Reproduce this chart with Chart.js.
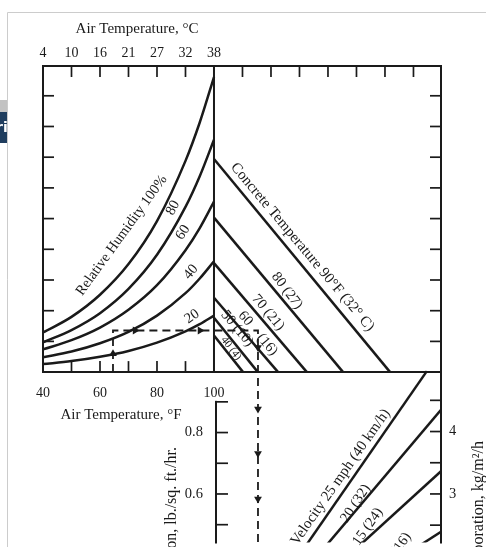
<!DOCTYPE html>
<html>
<head>
<meta charset="utf-8">
<script src="https://cdn.jsdelivr.net/npm/chart.js@4.4.1/dist/chart.umd.min.js"></script>
<style>
  html, body { margin: 0; padding: 0; background: #fff; overflow: hidden; }
  canvas { display: block; }
</style>
</head>
<body>
<canvas id="nomograph" width="486" height="547"></canvas>
<script>
// ---- data read off the nomograph ----
// upper-left panel: relative humidity curves vs air temperature (deg F), y in grid units
const airTempF = [40, 50, 60, 70, 80, 90, 95, 100];
const rhLabels = ['100', '80', '60', '40', '20'];
const rh100 = [1.29, 1.80, 2.52, 3.52, 4.92, 6.88, 8.13, 9.61];
const rh80  = [0.97, 1.37, 1.92, 2.71, 3.82, 5.38, 6.38, 7.57];
const rh60  = [0.74, 1.04, 1.45, 2.03, 2.83, 3.97, 4.69, 5.55];
const rh40  = [0.48, 0.67, 0.94, 1.31, 1.84, 2.57, 3.05, 3.61];
const rh20  = [0.26, 0.36, 0.50, 0.69, 0.96, 1.33, 1.56, 1.84];

// upper-right panel: concrete temperature lines (start on the 100F line, end on the base line)
const concreteF = ['90', '80', '70', '60', '50', '40'];
const concreteC = ['32', '27', '21', '16', '10', '4'];
const concreteStartY = [6.94, 5.03, 3.55, 2.42, 1.77, 1.19];
const concreteEndX = [161.8, 145.3, 132.6, 122.5, 115.4, 110.2];

// lower panel: wind velocity lines, rate of evaporation lb/sq ft/hr
const windMph = ['25', '20', '15', '10'];
const windKmh = ['40', '32', '24', '16'];
const windEndX = [174.7, 179.66, 179.66, 179.66];
const windEndRate = [1.0, 0.874, 0.674, 0.477];

// worked example (dashed path)
const exampleX = [64.56, 64.56, 115.44, 115.44];
const exampleY = [0, 1.355, 1.355, -6];

// tick labels
const celsiusLabels = ['4', '10', '16', '21', '27', '32', '38'];
const celsiusAtF = [40, 50, 60, 70, 80, 90, 100];
const fahrLabels = ['40', '60', '80', '100'];
const fahrAt = [40, 60, 80, 100];
const topTicksF = [50, 60, 70, 80, 90, 110, 120, 130, 140, 150, 160, 170];
const baseTicksF = [50, 60, 70, 80, 90];
const sideTicks = [1, 2, 3, 4, 5, 6, 7, 8, 9];
const lbTicks = [0.5, 0.6, 0.7, 0.8, 0.9];
const lbLabelled = [0.6, 0.8];
const kgTicks = [2.5, 3, 3.5, 4, 4.5];
const kgLabelled = [3, 4];

const ink = '#1a1a1a';
const serif = '"Liberation Serif", "DejaVu Serif", serif';

function seg(ctx, x1, y1, x2, y2) {
  ctx.beginPath();
  ctx.moveTo(x1, y1);
  ctx.lineTo(x2, y2);
  ctx.stroke();
}

function text(ctx, str, x, y, deg, size, align) {
  ctx.save();
  ctx.translate(x, y);
  ctx.rotate(deg * Math.PI / 180);
  ctx.font = size + 'px ' + serif;
  ctx.textAlign = align || 'center';
  ctx.textBaseline = 'middle';
  ctx.fillText(str, 0, 0);
  ctx.restore();
}

// label placements: [text, x (F scale), value, axis, angle, size]
const placements = [
  ['Relative Humidity ' + rhLabels[0] + '%', 67.6, 4.45, 'y', -54, 14.5],
  [rhLabels[1], 85.6, 5.35, 'y', -62, 14.5],
  [rhLabels[2], 89.1, 4.55, 'y', -58, 14.5],
  [rhLabels[3], 91.9, 3.26, 'y', -50, 14.5],
  [rhLabels[4], 92.3, 1.81, 'y', -35, 14.5],
  ['Concrete Temperature ' + concreteF[0] + '\u00B0F (' + concreteC[0] + '\u00B0 C)', 131.0, 4.07, 'y', 50, 15],
  [concreteF[1] + ' (' + concreteC[1] + ')', 125.6, 2.65, 'y', 53, 14.5],
  [concreteF[2] + ' (' + concreteC[2] + ')', 119.0, 1.94, 'y', 50, 14.5],
  [concreteF[3] + '    (' + concreteC[3] + ')', 115.4, 1.26, 'y', 50, 14.5],
  [concreteF[4] + ' (' + concreteC[4] + ')', 108.1, 1.42, 'y', 50, 14.5],
  [concreteF[5] + ' (' + concreteC[5] + ')', 106.0, 0.77, 'y', 52, 11],
  ['Velocity ' + windMph[0] + ' mph (' + windKmh[0] + ' km/h)', 144.4, 0.655, 'yE', -55, 15],
  [windMph[1] + ' (' + windKmh[1] + ')', 149.7, 0.569, 'yE', -56, 14.5],
  [windMph[2] + ' (' + windKmh[2] + ')', 154.0, 0.4935, 'yE', -55, 14.5],
  [windMph[3] + ' (' + windKmh[3] + ')', 163.9, 0.413, 'yE', -55, 14.5]
];

const nomoPlugin = {
  id: 'nomo',
  beforeDraw(chart) {
    const ctx = chart.ctx;
    ctx.save();
    ctx.fillStyle = '#fff';
    ctx.fillRect(0, 0, chart.width, chart.height);
    // page edge from the screenshot
    ctx.strokeStyle = '#cccccc';
    ctx.lineWidth = 1;
    seg(ctx, 7.5, 12.5, chart.width, 12.5);
    seg(ctx, 7.5, 12.5, 7.5, chart.height);
    ctx.fillStyle = '#c2c2c2';
    ctx.fillRect(0, 100, 7, 12);
    ctx.fillStyle = '#1f3d5e';
    ctx.fillRect(0, 112, 7, 31);
    ctx.beginPath();
    ctx.rect(0, 112, 7, 31);
    ctx.clip();
    ctx.fillStyle = '#fff';
    ctx.font = 'bold 14px "DejaVu Sans"';
    ctx.fillText('ri', -4, 132);
    ctx.restore();
  },
  afterDatasetsDraw(chart) {
    const { ctx, chartArea } = chart;
    const { x, y, yE, yK } = chart.scales;
    const X = v => x.getPixelForValue(v);
    const Y = v => y.getPixelForValue(v);
    const left = chartArea.left, right = chartArea.right, top = chartArea.top, bottom = chartArea.bottom;
    const base = Y(0), mid = X(100);

    ctx.save();
    ctx.strokeStyle = ink;
    ctx.lineCap = 'square';
    ctx.lineWidth = 2;
    seg(ctx, left, top, right, top);
    seg(ctx, left, top, left, base);
    seg(ctx, left, base, right, base);
    seg(ctx, mid, top, mid, base);
    seg(ctx, right, top, right, bottom);
    seg(ctx, mid + 2, yE.getPixelForValue(lbTicks[lbTicks.length - 1]), mid + 2, bottom);

    ctx.lineWidth = 1.7;
    ctx.lineCap = 'butt';
    topTicksF.forEach(f => seg(ctx, X(f), top, X(f), top + 11));
    baseTicksF.forEach(f => seg(ctx, X(f), base, X(f), base - 11));
    sideTicks.forEach(v => {
      seg(ctx, left, Y(v), left + 11, Y(v));
      seg(ctx, right, Y(v), right - 11, Y(v));
    });
    lbTicks.forEach(v => seg(ctx, mid + 1, yE.getPixelForValue(v), mid + 14, yE.getPixelForValue(v)));
    kgTicks.forEach(v => seg(ctx, right, yK.getPixelForValue(v), right - 11, yK.getPixelForValue(v)));

    ctx.fillStyle = ink;
    text(ctx, 'Air Temperature, \u00B0C', 137, 29, 0, 15);
    celsiusLabels.forEach((s, i) => text(ctx, s, X(celsiusAtF[i]), 53, 0, 14));
    fahrLabels.forEach((s, i) => text(ctx, s, X(fahrAt[i]), 393, 0, 14));
    text(ctx, 'Air Temperature, \u00B0F', 121, 415, 0, 15);
    lbLabelled.forEach(v => text(ctx, v.toFixed(1), mid - 11, yE.getPixelForValue(v), 0, 14.5, 'right'));
    kgLabelled.forEach(v => text(ctx, String(v), right + 8, yK.getPixelForValue(v), 0, 14.5, 'left'));
    text(ctx, 'Rate of Evaporation, lb./sq. ft./hr.', 172, 447, -90, 16, 'right');
    text(ctx, 'Rate of Evaporation, kg/m\u00B2/h', 479, 441, -90, 16, 'right');

    placements.forEach(p => {
      const sc = chart.scales[p[3]];
      text(ctx, p[0], X(p[1]), sc.getPixelForValue(p[2]), p[4], p[5]);
    });
    ctx.restore();
  }
};

const lineStyle = {
  showLine: true,
  pointRadius: 0,
  borderColor: ink,
  borderWidth: 2.5,
  fill: false
};

const datasets = [];
[rh100, rh80, rh60, rh40, rh20].forEach((s, i) => {
  datasets.push(Object.assign({}, lineStyle, {
    label: 'RH ' + rhLabels[i] + '%',
    data: airTempF.map((t, k) => ({ x: t, y: s[k] })),
    cubicInterpolationMode: 'monotone',
    yAxisID: 'y'
  }));
});
concreteF.forEach((f, i) => {
  datasets.push(Object.assign({}, lineStyle, {
    label: 'Concrete ' + f + 'F',
    data: [{ x: 100, y: concreteStartY[i] }, { x: concreteEndX[i], y: 0 }],
    yAxisID: 'y'
  }));
});
windMph.forEach((w, i) => {
  datasets.push(Object.assign({}, lineStyle, {
    label: 'Wind ' + w + ' mph',
    data: [{ x: 100, y: 0 }, { x: windEndX[i], y: windEndRate[i] }],
    yAxisID: 'yE'
  }));
});
datasets.push(Object.assign({}, lineStyle, {
  label: 'Example',
  data: exampleX.map((v, k) => ({ x: v, y: exampleY[k] })),
  borderWidth: 1.8,
  borderDash: [8, 5],
  yAxisID: 'y'
}));
// arrow heads along the example path
datasets.push({
  label: 'Arrows',
  data: [{ x: 64.56, y: 0.6 }, { x: 72.3, y: 1.355 }, { x: 95.1, y: 1.355 }, { x: 115.44, y: 0.8 }],
  pointStyle: 'triangle',
  pointRadius: 4.5,
  rotation: [0, 90, 90, 180],
  backgroundColor: ink,
  borderWidth: 0,
  yAxisID: 'y'
});
datasets.push({
  label: 'Arrows lower',
  data: [{ x: 115.44, y: 0.877 }, { x: 115.44, y: 0.732 }, { x: 115.44, y: 0.584 }],
  pointStyle: 'triangle',
  pointRadius: 4.5,
  rotation: 180,
  backgroundColor: ink,
  borderWidth: 0,
  yAxisID: 'yE'
});

new Chart(document.getElementById('nomograph'), {
  type: 'scatter',
  data: { datasets: datasets },
  options: {
    responsive: false,
    animation: false,
    events: [],
    layout: { padding: { left: 43, top: 66, right: 45, bottom: 0 } },
    plugins: { legend: { display: false }, tooltip: { enabled: false } },
    scales: {
      x: { type: 'linear', min: 40, max: 179.66, display: false },
      y: { type: 'linear', min: -5.55, max: 9.97, display: false },
      yE: { type: 'linear', min: 0.442, max: 1.9935, display: false },
      yK: { type: 'linear', min: 2.222, max: 9.857, display: false }
    }
  },
  plugins: [nomoPlugin]
});
</script>
</body>
</html>
